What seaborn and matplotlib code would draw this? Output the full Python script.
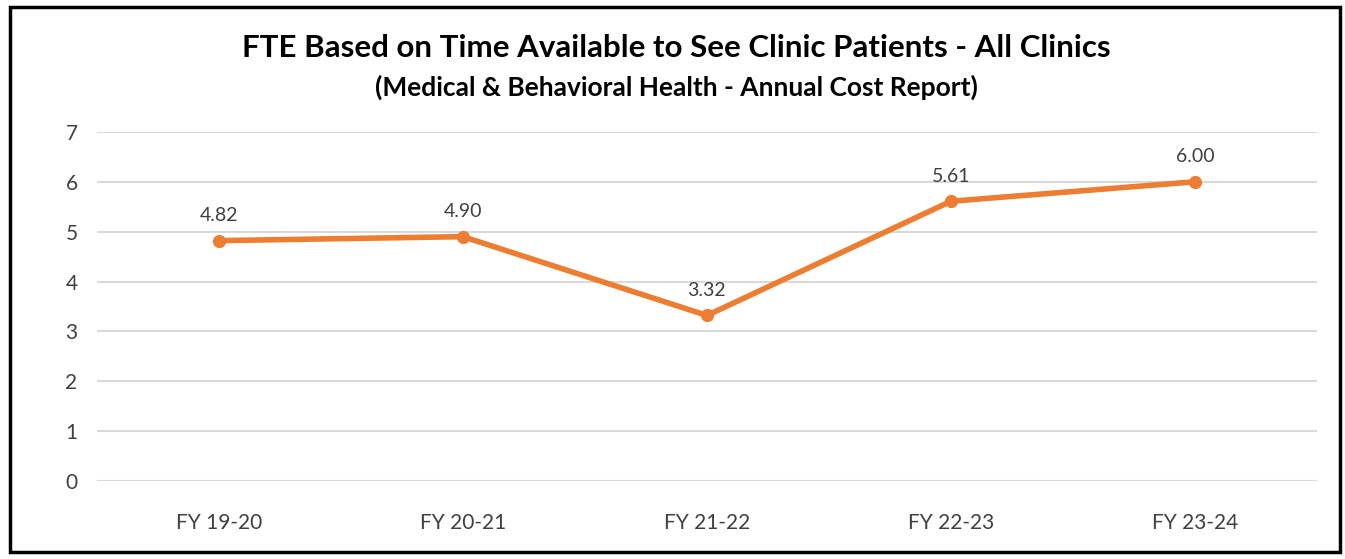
import matplotlib.pyplot as plt
import pandas as pd
import seaborn as sns
from matplotlib.patches import Rectangle

fiscal_years = ["FY 19-20", "FY 20-21", "FY 21-22", "FY 22-23", "FY 23-24"]
fte_values = [4.82, 4.90, 3.32, 5.61, 6.00]
y_ticks = [0, 1, 2, 3, 4, 5, 6, 7]

ORANGE = "#ED7D31"
GRID = "#D9D9D9"
TEXT = "#404040"

sns.set_theme(style="white")
plt.rcParams["font.family"] = ["Lato", "DejaVu Sans"]

df = pd.DataFrame({"year": fiscal_years, "fte": fte_values})

fig = plt.figure(figsize=(13.45, 5.59), dpi=100)
ax = fig.add_axes([0.0721, 0.1395, 0.9070, 0.6245])

sns.lineplot(
    data=df,
    x="year",
    y="fte",
    color=ORANGE,
    linewidth=4,
    marker="o",
    markersize=9.5,
    markeredgewidth=0,
    sort=False,
    ax=ax
)

for i, value in enumerate(fte_values):
    ax.annotate(
        f"{value:.2f}",
        (i, value),
        xytext=(0, 12),
        textcoords="offset points",
        ha="center",
        va="bottom",
        fontsize=14,
        color=TEXT
    )

ax.set_xlim(-0.5, len(fiscal_years) - 0.5)
ax.set_ylim(0, 7)
ax.set_yticks(y_ticks)
ax.yaxis.grid(True, color=GRID, linewidth=1.5)
ax.set_axisbelow(True)
for spine in ax.spines.values():
    spine.set_visible(False)
ax.tick_params(axis="x", length=0, pad=23, labelsize=15, labelcolor=TEXT)
ax.tick_params(axis="y", length=0, pad=14, labelsize=15, labelcolor=TEXT)
ax.set_xlabel("")
ax.set_ylabel("")

fig.text(
    0.503, 0.915,
    "FTE Based on Time Available to See Clinic Patients - All Clinics",
    ha="center", va="center", fontsize=22.5, fontweight="bold", color="black"
)
fig.text(
    0.503, 0.843,
    "(Medical & Behavioral Health - Annual Cost Report)",
    ha="center", va="center", fontsize=19, fontweight="bold", color="black"
)

fig.patches.append(
    Rectangle(
        (0.0074, 0.0125), 0.9889, 0.975,
        transform=fig.transFigure, fill=False,
        edgecolor="black", linewidth=2.5
    )
)

fig.savefig("out.png", dpi=100)
